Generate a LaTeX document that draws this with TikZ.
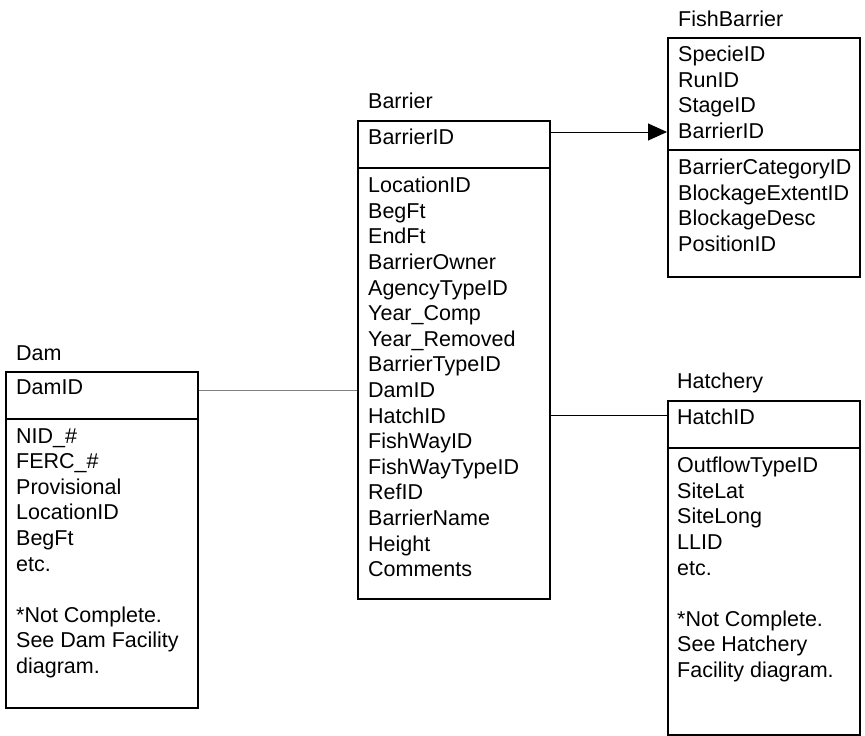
\documentclass[tikz,border=0pt]{standalone}
\usepackage{fontspec}
\setmainfont{Liberation Sans}
\usetikzlibrary{arrows.meta}
\tikzset{
  tbl/.style={draw, line width=1.8pt, anchor=north west, inner sep=0pt, minimum width=192pt},
  rule/.style={line width=1.8pt},
  rows/.style={anchor=north west, inner sep=0pt, align=left, font=\fontsize{21.5}{25.6}\selectfont},
  title/.style={anchor=base west, inner sep=0pt, font=\fontsize{21.5}{25.6}\selectfont},
  link/.style={line width=1pt}
}

\begin{document}
\begin{tikzpicture}[x=1pt,y=-1pt]
\useasboundingbox (0,0) rectangle (865,736);
% Dam
\node[title] (damt) at (16,360) {Dam};
\node[tbl, minimum height=336pt] (dam) at (5,371) {};
\draw[rule] (5,419) -- (197,419);
\node[rows] (damk) at (16,380) {DamID};
\node[rows] (damf) at (16,428) {NID\_\#\\FERC\_\#\\Provisional\\LocationID\\BegFt\\etc.\\[25.6pt]*Not Complete.\\See Dam Facility\\diagram.};
% Barrier
\node[title] (barriert) at (368,108) {Barrier};
\node[tbl, minimum height=478pt] (barrier) at (357,120) {};
\draw[rule] (357,168) -- (550,168);
\node[rows] (barrierk) at (368,129) {BarrierID};
\node[rows] (barrierf) at (368,177) {LocationID\\BegFt\\EndFt\\BarrierOwner\\AgencyTypeID\\Year\_Comp\\Year\_Removed\\BarrierTypeID\\DamID\\HatchID\\FishWayID\\FishWayTypeID\\RefID\\BarrierName\\Height\\Comments};
% FishBarrier
\node[title] (fisht) at (678,26) {FishBarrier};
\node[tbl, minimum height=239pt] (fish) at (667,37) {};
\draw[rule] (667,150) -- (859,150);
\node[rows] (fishk) at (678,46) {SpecieID\\RunID\\StageID\\BarrierID};
\node[rows] (fishf) at (678,159) {BarrierCategoryID\\BlockageExtentID\\BlockageDesc\\PositionID};
% Hatchery
\node[title] (hatcht) at (677,388) {Hatchery};
\node[tbl, minimum height=334pt] (hatch) at (667,400) {};
\draw[rule] (667,448) -- (859,448);
\node[rows] (hatchk) at (677,409) {HatchID};
\node[rows] (hatchf) at (677,457) {OutflowTypeID\\SiteLat\\SiteLong\\LLID\\etc.\\[25.6pt]*Not Complete.\\See Hatchery\\Facility diagram.};
% links
\coordinate (flink) at (0,132);
\coordinate (dlink) at (0,390);
\coordinate (hlink) at (0,415);
\draw[link, -{Triangle[length=19pt,width=17pt]}] (barrier.east |- flink) -- (fish.west |- flink);
\draw[link, gray] (dam.east |- dlink) -- (barrier.west |- dlink);
\draw[link] (barrier.east |- hlink) -- (hatch.west |- hlink);
\end{tikzpicture}
\end{document}
